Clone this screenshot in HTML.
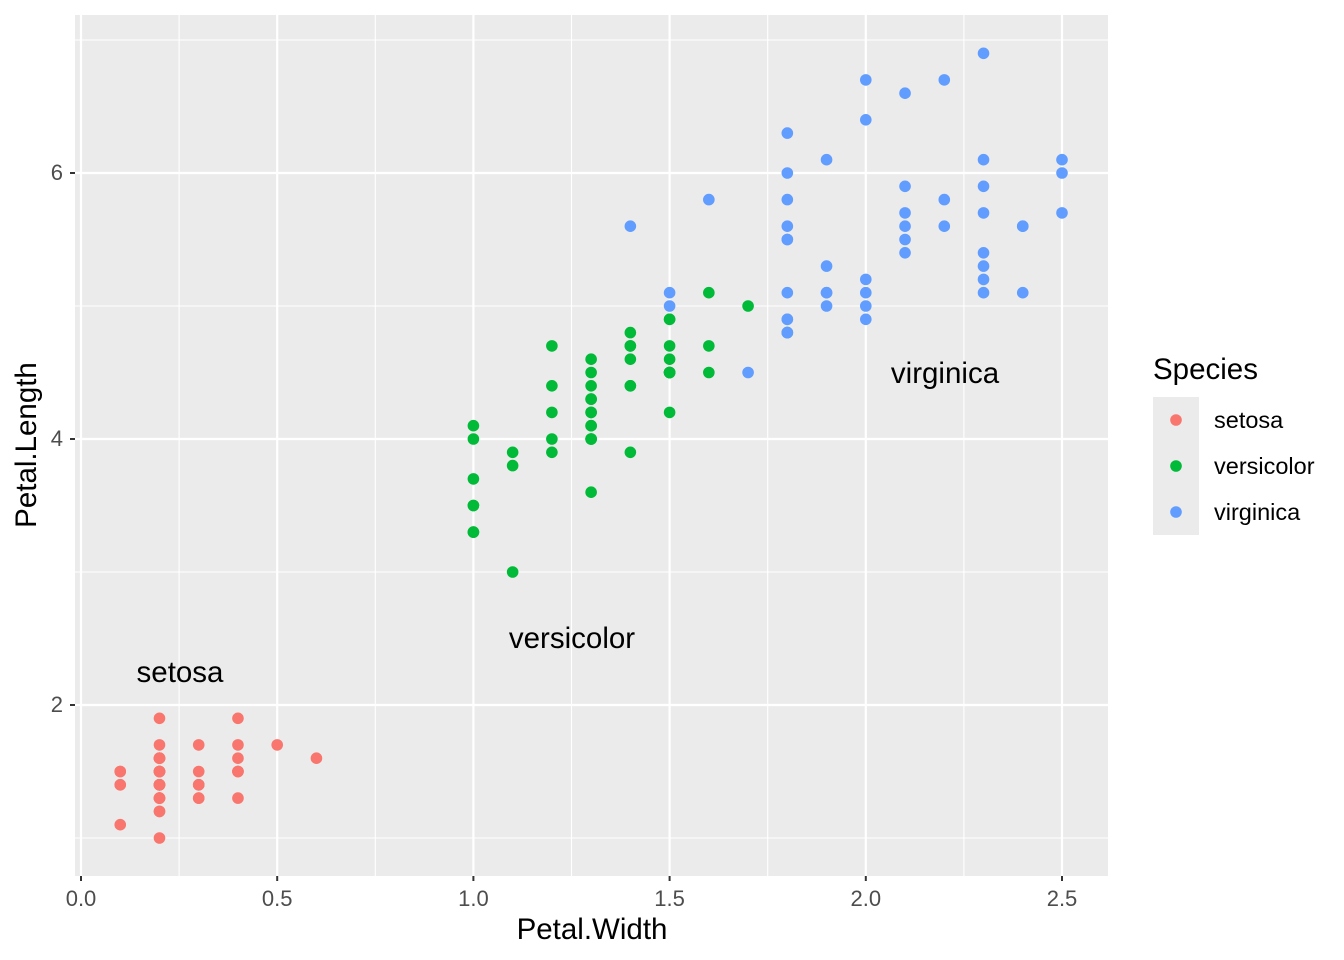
<!DOCTYPE html>
<html><head><meta charset="utf-8"><style>
html,body{margin:0;padding:0;background:#fff;}
svg{display:block;font-family:"Liberation Sans",sans-serif;}
</style></head><body>
<svg id="s" width="1344" height="960" xmlns="http://www.w3.org/2000/svg">
<rect x="0" y="0" width="1344" height="960" fill="#fff"/>
<rect x="75" y="15" width="1033" height="861" fill="#ebebeb"/>
<g stroke="#fff" stroke-width="1.1">
<line x1="75" x2="1108" y1="838" y2="838"/><line x1="75" x2="1108" y1="572" y2="572"/><line x1="75" x2="1108" y1="306" y2="306"/><line x1="75" x2="1108" y1="40" y2="40"/>
<line y1="15" y2="876" x1="179.1" x2="179.1"/><line y1="15" y2="876" x1="375.3" x2="375.3"/><line y1="15" y2="876" x1="571.5" x2="571.5"/><line y1="15" y2="876" x1="767.7" x2="767.7"/><line y1="15" y2="876" x1="963.9" x2="963.9"/>
</g>
<g stroke="#fff" stroke-width="2.2">
<line x1="75" x2="1108" y1="705" y2="705"/><line x1="75" x2="1108" y1="439" y2="439"/><line x1="75" x2="1108" y1="173" y2="173"/>
<line y1="15" y2="876" x1="81" x2="81"/><line y1="15" y2="876" x1="277.2" x2="277.2"/><line y1="15" y2="876" x1="473.4" x2="473.4"/><line y1="15" y2="876" x1="669.6" x2="669.6"/><line y1="15" y2="876" x1="865.8" x2="865.8"/><line y1="15" y2="876" x1="1062" x2="1062"/>
</g>
<g id="pts"></g>
<g stroke="#333" stroke-width="2">
<line x1="70" x2="75" y1="705" y2="705"/><line x1="70" x2="75" y1="439" y2="439"/><line x1="70" x2="75" y1="173" y2="173"/>
<line y1="876" y2="881" x1="81" x2="81"/><line y1="876" y2="881" x1="277.2" x2="277.2"/><line y1="876" y2="881" x1="473.4" x2="473.4"/><line y1="876" y2="881" x1="669.6" x2="669.6"/><line y1="876" y2="881" x1="865.8" x2="865.8"/><line y1="876" y2="881" x1="1062" x2="1062"/>
</g>
<g fill="#4d4d4d" font-size="22">
<text x="63" y="712" text-anchor="end">2</text><text x="63" y="446" text-anchor="end">4</text><text x="63" y="180" text-anchor="end">6</text>
<g text-anchor="middle"><text x="81" y="906">0.0</text><text x="277.2" y="906">0.5</text><text x="473.4" y="906">1.0</text><text x="669.6" y="906">1.5</text><text x="865.8" y="906">2.0</text><text x="1062" y="906">2.5</text></g>
</g>
<text x="592" y="939" font-size="29.5" text-anchor="middle" fill="#000">Petal.Width</text>
<text transform="translate(36,445) rotate(-90)" font-size="29.5" text-anchor="middle" fill="#000">Petal.Length</text>
<g font-size="29.5" text-anchor="middle" fill="#000">
<text x="180" y="682">setosa</text><text x="572" y="648">versicolor</text><text x="945" y="383">virginica</text>
</g>
<text x="1153" y="379" font-size="29.5" fill="#000">Species</text>
<rect x="1153" y="397" width="46" height="138" fill="#ebebeb"/>
<circle cx="1176" cy="420" r="5.8" fill="#F8766D"/><circle cx="1176" cy="466" r="5.8" fill="#00BA38"/><circle cx="1176" cy="512" r="5.8" fill="#619CFF"/>
<g font-size="23.5" fill="#000"><text x="1214" y="428">setosa</text><text x="1214" y="474">versicolor</text><text x="1214" y="520">virginica</text></g>
</svg>
<script>
var d=[
["#F8766D",[1.4,1.4,1.3,1.5,1.4,1.7,1.4,1.5,1.4,1.5,1.5,1.6,1.4,1.1,1.2,1.5,1.3,1.4,1.7,1.5,1.7,1.5,1.0,1.7,1.9,1.6,1.6,1.5,1.4,1.6,1.6,1.5,1.5,1.4,1.5,1.2,1.3,1.4,1.3,1.5,1.3,1.3,1.3,1.6,1.9,1.4,1.6,1.4,1.5,1.4],
[0.2,0.2,0.2,0.2,0.2,0.4,0.3,0.2,0.2,0.1,0.2,0.2,0.1,0.1,0.2,0.4,0.4,0.3,0.3,0.3,0.2,0.4,0.2,0.5,0.2,0.2,0.4,0.2,0.2,0.2,0.2,0.4,0.1,0.2,0.2,0.2,0.2,0.1,0.2,0.2,0.3,0.3,0.2,0.6,0.4,0.3,0.2,0.2,0.2,0.2]],
["#00BA38",[4.7,4.5,4.9,4.0,4.6,4.5,4.7,3.3,4.6,3.9,3.5,4.2,4.0,4.7,3.6,4.4,4.5,4.1,4.5,3.9,4.8,4.0,4.9,4.7,4.3,4.4,4.8,5.0,4.5,3.5,3.8,3.7,3.9,5.1,4.5,4.5,4.7,4.4,4.1,4.0,4.4,4.6,4.0,3.3,4.2,4.2,4.2,4.3,3.0,4.1],
[1.4,1.5,1.5,1.3,1.5,1.3,1.6,1.0,1.3,1.4,1.0,1.5,1.0,1.4,1.3,1.4,1.5,1.0,1.5,1.1,1.8,1.3,1.5,1.2,1.3,1.4,1.4,1.7,1.5,1.0,1.1,1.0,1.2,1.6,1.5,1.6,1.5,1.3,1.3,1.3,1.2,1.4,1.2,1.0,1.3,1.2,1.3,1.3,1.1,1.3]],
["#619CFF",[6.0,5.1,5.9,5.6,5.8,6.6,4.5,6.3,5.8,6.1,5.1,5.3,5.5,5.0,5.1,5.3,5.5,6.7,6.9,5.0,5.7,4.9,6.7,4.9,5.7,6.0,4.8,4.9,5.6,5.8,6.1,6.4,5.6,5.1,5.6,6.1,5.6,5.5,4.8,5.4,5.6,5.1,5.1,5.9,5.7,5.2,5.0,5.2,5.4,5.1],
[2.5,1.9,2.1,1.8,2.2,2.1,1.7,1.8,1.8,2.5,2.0,1.9,2.1,2.0,2.4,2.3,1.8,2.2,2.3,1.5,2.3,2.0,2.0,1.8,2.1,1.8,1.8,1.8,2.1,1.6,1.9,2.0,2.2,1.5,1.4,2.3,2.4,1.8,1.8,2.1,2.4,2.3,1.9,2.3,2.5,2.3,1.9,2.0,2.3,1.8]]];
var g=document.getElementById("pts"),h="";
d.forEach(function(s){for(var i=0;i<50;i++){h+='<circle cx="'+(81+392.4*s[2][i])+'" cy="'+(971-133*s[1][i])+'" r="5.8" fill="'+s[0]+'"/>';}});
g.innerHTML=h;
</script>
</body></html>
